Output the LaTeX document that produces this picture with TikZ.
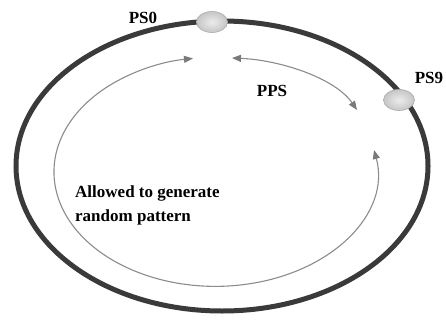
\documentclass[tikz,border=0pt]{standalone}
\usepackage{fontspec}
\setmainfont{Liberation Serif}
\usetikzlibrary{arrows.meta,shapes.geometric}
\definecolor{ringdark}{HTML}{3A3A3A}
\definecolor{arcgray}{HTML}{8C8C8C}
\definecolor{tipgray}{HTML}{7A7A7A}
\tikzset{
  ring/.style={draw=ringdark, line width=5pt},
  flow/.style={draw=arcgray, line width=1.1pt,
    arrows={Triangle[length=9pt,width=7pt,fill=tipgray,color=tipgray]-Triangle[length=9pt,width=7pt,fill=tipgray,color=tipgray]}},
  station/.style={ellipse, draw=gray!65, line width=0.6pt, minimum width=31pt, minimum height=21pt,
    inner sep=0pt, shading=radial, inner color=gray!15, outer color=gray!45},
  tag/.style={font=\bfseries\fontsize{17}{24}\selectfont, text=black, inner sep=0pt}
}
\begin{document}
\begin{tikzpicture}[x=1pt, y=-1pt]
  \useasboundingbox (0,0) rectangle (446,321);
  \fill[white] (0,0) rectangle (446,321);
  % outer ring
  \draw[ring] (222,166) ellipse [x radius=206, y radius=145];
  % inner loop: free space for random patterns
  \coordinate (loopA) at (374,150);
  \draw[flow] (loopA) arc [start angle=-11, end angle=262, x radius=161.5, y radius=114.5];
  % PPS span between the two stations
  \coordinate (ppsA) at (232,58);
  \coordinate (ppsB) at (357,110);
  \draw[flow] (ppsA) .. controls (280,60) and (335,78) .. (ppsB);
  % stations on the ring
  \node[station] (ps0) at (212,22) {};
  \node[station] (ps9) at (399,100) {};
  % labels
  \node[tag] (ps0lbl) at (143,18) {PS0};
  \node[tag] (ps9lbl) at (429,78) {PS9};
  \node[tag] (ppslbl) at (272,91) {PPS};
  \node[tag, align=left, anchor=north west] (freelbl) at (75,186) {Allowed to generate\\random pattern};
\end{tikzpicture}
\end{document}
